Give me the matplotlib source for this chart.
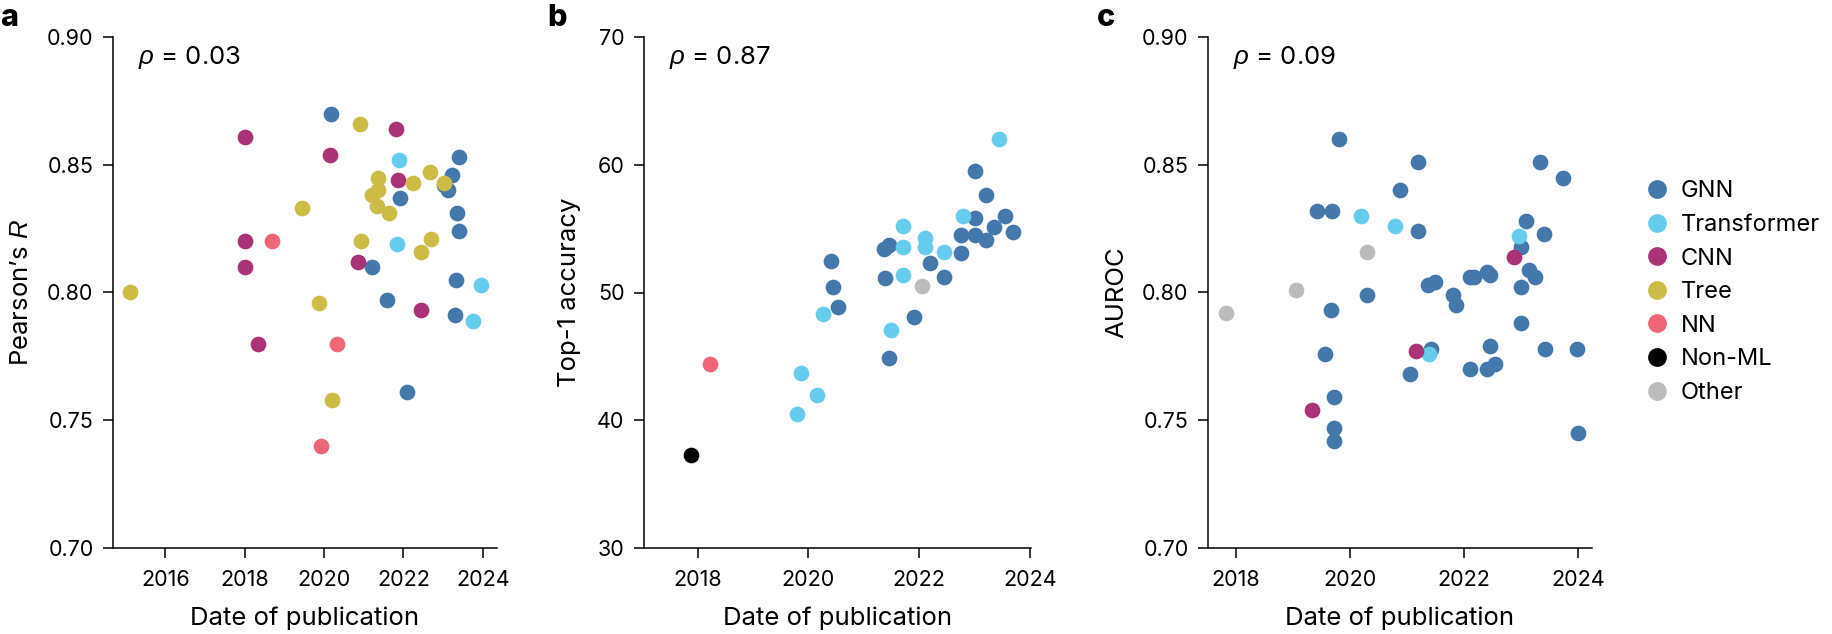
import matplotlib
matplotlib.use('Agg')
import matplotlib.pyplot as plt
from matplotlib.lines import Line2D

plt.rcParams['font.family'] = ['Inter', 'DejaVu Sans']
plt.rcParams['mathtext.fontset'] = 'custom'
plt.rcParams['mathtext.rm'] = 'Inter'
plt.rcParams['mathtext.it'] = 'Liberation Sans:italic'

categories = ['GNN', 'Transformer', 'CNN', 'Tree', 'NN', 'Non-ML', 'Other']
colors = {'GNN': '#4477AA', 'Transformer': '#66CCEE', 'CNN': '#AA3377',
          'Tree': '#CCBB44', 'NN': '#EE6677', 'Non-ML': '#000000', 'Other': '#BBBBBB'}

# Panel a: Pearson's R
a_year = [2015.11, 2020.17, 2020.91, 2021.81, 2018.02, 2020.14, 2021.89, 2021.35, 2021.86,
          2022.24, 2022.67, 2023.02, 2021.37, 2021.20, 2021.92, 2021.33, 2021.65, 2019.45,
          2018.02, 2018.68, 2020.94, 2021.84, 2022.70, 2022.44, 2018.02, 2020.85, 2021.22,
          2021.58, 2019.88, 2022.44, 2018.34, 2020.32, 2020.19, 2022.08, 2019.92,
          2023.23, 2023.41, 2023.03, 2023.13, 2023.36, 2023.39, 2023.33, 2023.30,
          2023.95, 2023.75]
a_val = [0.800, 0.870, 0.866, 0.864, 0.861, 0.854, 0.852, 0.845, 0.844,
         0.843, 0.847, 0.843, 0.840, 0.838, 0.837, 0.834, 0.831, 0.833,
         0.820, 0.820, 0.820, 0.819, 0.821, 0.816, 0.810, 0.812, 0.810,
         0.797, 0.796, 0.793, 0.780, 0.780, 0.758, 0.761, 0.740,
         0.846, 0.853, 0.842, 0.840, 0.831, 0.824, 0.805, 0.791,
         0.803, 0.789]
a_cat = ['Tree', 'GNN', 'Tree', 'CNN', 'CNN', 'CNN', 'Transformer', 'Tree', 'CNN',
         'Tree', 'Tree', 'Tree', 'Tree', 'Tree', 'GNN', 'Tree', 'Tree', 'Tree',
         'CNN', 'NN', 'Tree', 'Transformer', 'Tree', 'Tree', 'CNN', 'CNN', 'GNN',
         'GNN', 'Tree', 'CNN', 'CNN', 'NN', 'Tree', 'GNN', 'NN',
         'GNN', 'GNN', 'GNN', 'GNN', 'GNN', 'GNN', 'GNN', 'GNN',
         'Transformer', 'Transformer']

# Panel b: Top-1 accuracy
b_year = [2017.87, 2018.23, 2019.87, 2020.16, 2019.80, 2020.27, 2020.53, 2021.91, 2021.49,
          2021.45, 2020.41, 2020.44, 2021.39, 2021.36, 2021.45, 2021.70, 2021.70, 2021.70,
          2022.05, 2023.45, 2023.00, 2023.20, 2023.00, 2022.80, 2023.55, 2023.70, 2023.35,
          2023.20, 2023.00, 2022.75, 2022.75, 2022.45, 2022.45, 2022.20, 2022.10, 2022.10]
b_val = [37.3, 44.4, 43.7, 42.0, 40.5, 48.3, 48.9, 48.1, 47.1,
         44.9, 52.5, 50.4, 51.1, 53.4, 53.7, 55.2, 53.6, 51.4,
         50.5, 62.0, 59.5, 57.6, 55.8, 56.0, 56.0, 54.7, 55.1,
         54.1, 54.5, 54.5, 53.1, 53.2, 51.2, 52.3, 54.3, 53.6]
b_cat = ['Non-ML', 'NN', 'Transformer', 'Transformer', 'Transformer', 'Transformer', 'GNN', 'GNN', 'Transformer',
         'GNN', 'GNN', 'GNN', 'GNN', 'GNN', 'GNN', 'Transformer', 'Transformer', 'Transformer',
         'Other', 'Transformer', 'GNN', 'GNN', 'GNN', 'Transformer', 'GNN', 'GNN', 'GNN',
         'GNN', 'GNN', 'GNN', 'GNN', 'Transformer', 'GNN', 'GNN', 'Transformer', 'Transformer']

# Panel c: AUROC
c_year = [2019.81, 2019.43, 2019.69, 2020.20, 2020.30, 2019.05, 2020.30, 2017.82, 2019.67,
          2019.57, 2019.72, 2019.34, 2019.72, 2019.72,
          2021.20, 2023.33, 2023.74, 2020.88, 2020.79, 2021.19, 2023.10, 2022.97, 2023.41,
          2023.00, 2022.88, 2023.15, 2023.25, 2023.00, 2021.37, 2021.50, 2022.11, 2022.18,
          2022.40, 2022.46, 2021.81, 2021.87, 2023.00, 2021.16, 2021.43, 2021.39, 2022.46,
          2023.43, 2023.98, 2021.05, 2022.10, 2022.40, 2022.55, 2024.00]
c_val = [0.860, 0.832, 0.832, 0.830, 0.816, 0.801, 0.799, 0.792, 0.793,
         0.776, 0.759, 0.754, 0.747, 0.742,
         0.851, 0.851, 0.845, 0.840, 0.826, 0.824, 0.828, 0.822, 0.823,
         0.818, 0.814, 0.809, 0.806, 0.802, 0.803, 0.804, 0.806, 0.806,
         0.808, 0.807, 0.799, 0.795, 0.788, 0.777, 0.778, 0.776, 0.779,
         0.778, 0.778, 0.768, 0.770, 0.770, 0.772, 0.745]
c_cat = ['GNN', 'GNN', 'GNN', 'Transformer', 'Other', 'Other', 'GNN', 'Other', 'GNN',
         'GNN', 'GNN', 'CNN', 'GNN', 'GNN',
         'GNN', 'GNN', 'GNN', 'GNN', 'Transformer', 'GNN', 'GNN', 'Transformer', 'GNN',
         'GNN', 'CNN', 'GNN', 'GNN', 'GNN', 'GNN', 'GNN', 'GNN', 'GNN',
         'GNN', 'GNN', 'GNN', 'GNN', 'GNN', 'CNN', 'GNN', 'Transformer', 'GNN',
         'GNN', 'GNN', 'GNN', 'GNN', 'GNN', 'GNN', 'GNN']

rho_a, rho_b, rho_c = '0.03', '0.87', '0.09'

W, H = 1833, 634
fig = plt.figure(figsize=(W / 100, H / 100), dpi=100)

TICK = 15.5
LAB = 18.5
LEG = 17
MS = 128

def make_ax(x0, x1, y0, y1):
    return fig.add_axes([x0 / W, 1 - y1 / H, (x1 - x0) / W, (y1 - y0) / H])

def style(ax):
    for s in ['top', 'right']:
        ax.spines[s].set_visible(False)
    for s in ['left', 'bottom']:
        ax.spines[s].set_linewidth(1.1)
    ax.tick_params(direction='out', length=7, width=1.1, labelsize=TICK, pad=7)
    ax.tick_params(axis='x', pad=9)

def draw(ax, xs, ys, cs):
    for cat in categories:
        px = [x for x, c in zip(xs, cs) if c == cat]
        py = [y for y, c in zip(ys, cs) if c == cat]
        if px:
            ax.scatter(px, py, s=MS, color=colors[cat], linewidths=0, zorder=3, clip_on=False)

# Panel a
axa = make_ax(113, 497, 37, 548)
draw(axa, a_year, a_val, a_cat)
axa.set_xlim(2014.68, 2024.36)
axa.set_ylim(0.70, 0.90)
axa.set_xticks([2016, 2018, 2020, 2022, 2024])
axa.set_yticks([0.70, 0.75, 0.80, 0.85, 0.90])
axa.set_yticklabels(['0.70', '0.75', '0.80', '0.85', '0.90'])
axa.set_ylabel('Pearson\u2019s $R$', fontsize=LAB, labelpad=10)
axa.set_xlabel('Date of publication', fontsize=LAB, labelpad=12)
style(axa)
axa.text(0.065, 0.96, '$\\rho$ = ' + rho_a, transform=axa.transAxes, fontsize=LAB, va='center', ha='left')

# Panel b
axb = make_ax(644, 1031, 37, 548)
draw(axb, b_year, b_val, b_cat)
axb.set_xlim(2017.03, 2024.02)
axb.set_ylim(30, 70)
axb.set_xticks([2018, 2020, 2022, 2024])
axb.set_yticks([30, 40, 50, 60, 70])
axb.set_ylabel('Top-1 accuracy', fontsize=LAB, labelpad=12)
axb.set_xlabel('Date of publication', fontsize=LAB, labelpad=12)
style(axb)
axb.text(0.065, 0.96, '$\\rho$ = ' + rho_b, transform=axb.transAxes, fontsize=LAB, va='center', ha='left')

# Panel c
axc = make_ax(1208, 1592, 37, 548)
draw(axc, c_year, c_val, c_cat)
axc.set_xlim(2017.51, 2024.25)
axc.set_ylim(0.70, 0.90)
axc.set_xticks([2018, 2020, 2022, 2024])
axc.set_yticks([0.70, 0.75, 0.80, 0.85, 0.90])
axc.set_yticklabels(['0.70', '0.75', '0.80', '0.85', '0.90'])
axc.set_ylabel('AUROC', fontsize=LAB, labelpad=10)
axc.set_xlabel('Date of publication', fontsize=LAB, labelpad=12)
style(axc)
axc.text(0.065, 0.96, '$\\rho$ = ' + rho_c, transform=axc.transAxes, fontsize=LAB, va='center', ha='left')

# Panel letters
for x, lab in [(0, 'a'), (547, 'b'), (1097, 'c')]:
    fig.text(x / W, 1 - 18 / H, lab, fontsize=22, fontweight='heavy', va='center', ha='left')

# Legend
handles = [Line2D([], [], marker='o', linestyle='none', markersize=13.5,
                  markerfacecolor=colors[c], markeredgewidth=0) for c in categories]
fig.legend(handles, categories, loc='upper left', bbox_to_anchor=(1636 / W, 1 - 171 / H),
           frameon=False, fontsize=LEG, handletextpad=0.5, labelspacing=0.49,
           borderaxespad=0, handlelength=1.0)

fig.savefig('out.png', dpi=100)
